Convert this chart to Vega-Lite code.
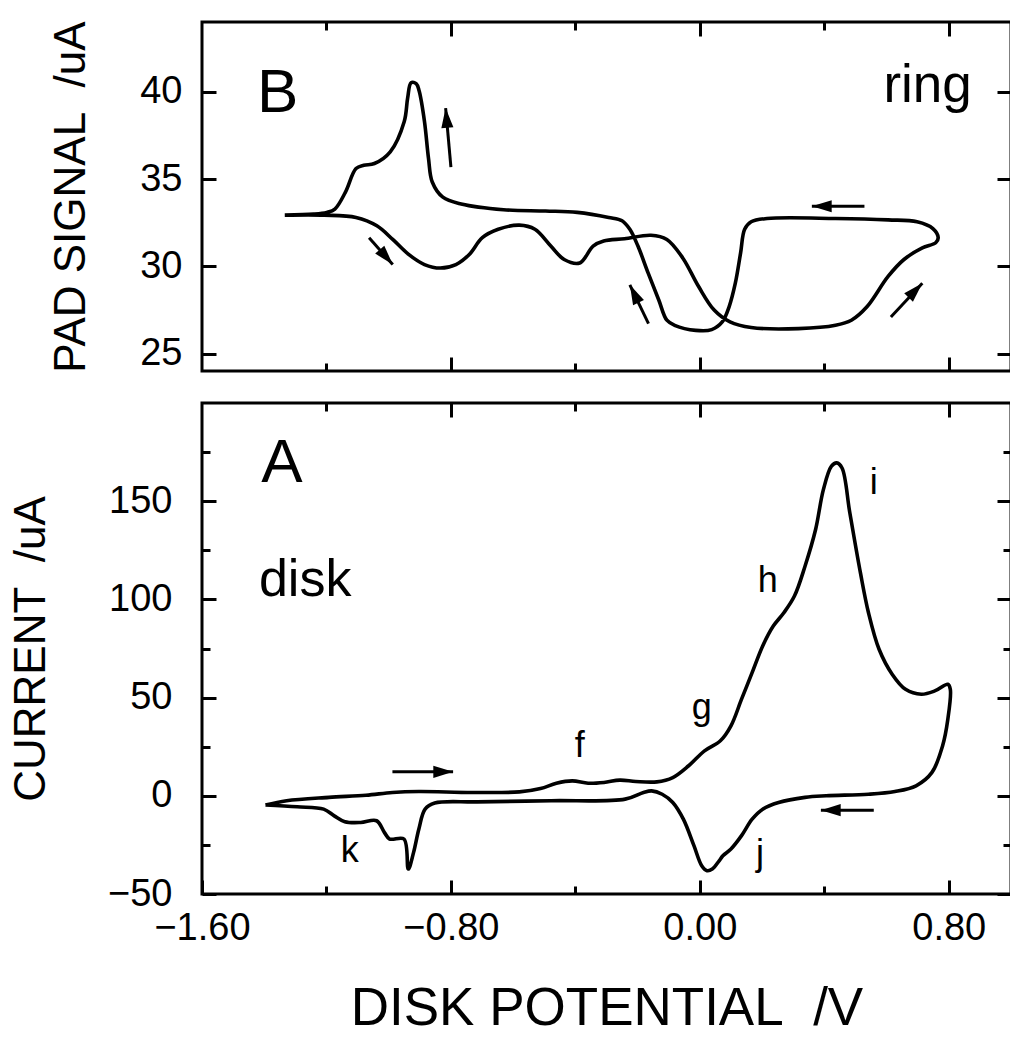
{
  "$schema": "https://vega.github.io/schema/vega-lite/v6.json",
  "padding": {"left": 8, "top": 19, "right": 0, "bottom": 0},
  "background": "white",
  "spacing": 25,
  "config": {
    "font": "Liberation Sans",
    "view": {"stroke": "black", "strokeWidth": 3},
    "axis": {
      "grid": false, "domain": false, "tickColor": "black", "tickWidth": 3,
      "labelColor": "black", "titleColor": "black",
      "labelFont": "Liberation Sans", "titleFont": "Liberation Sans",
      "labelFontSize": 38, "titleFontSize": 44, "titleFontWeight": "normal",
      "labelFlush": false, "labelOverlap": false
    }
  },
  "datasets": {
    "ring": [
      {"i":0,"E":-1.334,"I":32.93},{"i":1,"E":-1.207,"I":32.93},{"i":2,"E":-1.105,"I":32.80},{"i":3,"E":-1.038,"I":32.32},
      {"i":4,"E":-0.987,"I":31.54},{"i":5,"E":-0.936,"I":30.68},{"i":6,"E":-0.885,"I":30.10},{"i":7,"E":-0.834,"I":29.90},
      {"i":8,"E":-0.784,"I":30.10},{"i":9,"E":-0.741,"I":30.68},{"i":10,"E":-0.699,"I":31.64},{"i":11,"E":-0.648,"I":32.12},
      {"i":12,"E":-0.580,"I":32.36},{"i":13,"E":-0.530,"I":32.12},{"i":14,"E":-0.479,"I":31.16},{"i":15,"E":-0.436,"I":30.39},
      {"i":16,"E":-0.386,"I":30.19},{"i":17,"E":-0.343,"I":31.16},{"i":18,"E":-0.309,"I":31.45},{"i":19,"E":-0.242,"I":31.58},
      {"i":20,"E":-0.157,"I":31.78},{"i":21,"E":-0.106,"I":31.54},{"i":22,"E":-0.055,"I":30.48},{"i":23,"E":-0.004,"I":28.84},
      {"i":24,"E":0.046,"I":27.49},{"i":25,"E":0.097,"I":26.81},{"i":26,"E":0.165,"I":26.49},{"i":27,"E":0.317,"I":26.43},
      {"i":28,"E":0.436,"I":26.62},{"i":29,"E":0.487,"I":26.91},{"i":30,"E":0.537,"I":27.68},{"i":31,"E":0.605,"I":29.42},
      {"i":32,"E":0.656,"I":30.39},{"i":33,"E":0.715,"I":31.06},{"i":34,"E":0.758,"I":31.35},{"i":35,"E":0.766,"I":31.64},
      {"i":36,"E":0.749,"I":32.16},{"i":37,"E":0.698,"I":32.55},{"i":38,"E":0.605,"I":32.66},{"i":39,"E":0.436,"I":32.74},
      {"i":40,"E":0.216,"I":32.74},{"i":41,"E":0.165,"I":32.55},{"i":42,"E":0.144,"I":32.12},{"i":43,"E":0.131,"I":30.77},
      {"i":44,"E":0.114,"I":29.03},{"i":45,"E":0.094,"I":27.68},{"i":46,"E":0.072,"I":26.81},{"i":47,"E":0.038,"I":26.37},
      {"i":48,"E":-0.013,"I":26.33},{"i":49,"E":-0.081,"I":26.62},{"i":50,"E":-0.106,"I":26.91},{"i":51,"E":-0.132,"I":28.07},
      {"i":52,"E":-0.166,"I":29.61},{"i":53,"E":-0.199,"I":31.16},{"i":54,"E":-0.225,"I":32.12},{"i":55,"E":-0.250,"I":32.61},
      {"i":56,"E":-0.293,"I":32.80},{"i":57,"E":-0.394,"I":33.09},{"i":58,"E":-0.496,"I":33.17},{"i":59,"E":-0.631,"I":33.24},
      {"i":60,"E":-0.767,"I":33.57},{"i":61,"E":-0.826,"I":33.96},{"i":62,"E":-0.860,"I":34.83},{"i":63,"E":-0.872,"I":36.18},
      {"i":64,"E":-0.885,"I":38.30},{"i":65,"E":-0.902,"I":40.04},{"i":66,"E":-0.911,"I":40.46},{"i":67,"E":-0.928,"I":40.52},
      {"i":68,"E":-0.939,"I":39.65},{"i":69,"E":-0.950,"I":38.30},{"i":70,"E":-0.995,"I":36.56},{"i":71,"E":-1.046,"I":35.89},
      {"i":72,"E":-1.080,"I":35.79},{"i":73,"E":-1.105,"I":35.60},{"i":74,"E":-1.139,"I":34.25},{"i":75,"E":-1.173,"I":33.28},
      {"i":76,"E":-1.199,"I":33.09},{"i":77,"E":-1.241,"I":32.99},{"i":78,"E":-1.334,"I":32.93}
    ],
    "disk": [
      {"i":0,"E":-1.396,"I":-4.7},{"i":1,"E":-1.328,"I":-2.5},{"i":2,"E":-1.192,"I":-0.8},{"i":3,"E":-1.073,"I":0.3},
      {"i":4,"E":-0.988,"I":1.7},{"i":5,"E":-0.903,"I":2.2},{"i":6,"E":-0.733,"I":1.7},{"i":7,"E":-0.580,"I":2.0},
      {"i":8,"E":-0.512,"I":3.7},{"i":9,"E":-0.461,"I":6.4},{"i":10,"E":-0.410,"I":7.6},{"i":11,"E":-0.359,"I":6.4},
      {"i":12,"E":-0.308,"I":6.8},{"i":13,"E":-0.257,"I":8.0},{"i":14,"E":-0.206,"I":7.3},{"i":15,"E":-0.138,"I":7.1},
      {"i":16,"E":-0.087,"I":9.3},{"i":17,"E":-0.036,"I":15.3},{"i":18,"E":0.015,"I":22.9},{"i":19,"E":0.066,"I":28.0},
      {"i":20,"E":0.100,"I":35.6},{"i":21,"E":0.134,"I":49.2},{"i":22,"E":0.168,"I":62.7},{"i":23,"E":0.202,"I":76.3},
      {"i":24,"E":0.236,"I":86.4},{"i":25,"E":0.270,"I":93.2},{"i":26,"E":0.304,"I":101.7},{"i":27,"E":0.338,"I":116.9},
      {"i":28,"E":0.372,"I":135.6},{"i":29,"E":0.397,"I":155.9},{"i":30,"E":0.423,"I":167.8},{"i":31,"E":0.440,"I":169.5},
      {"i":32,"E":0.457,"I":166.9},{"i":33,"E":0.482,"I":144.1},{"i":34,"E":0.516,"I":113.6},{"i":35,"E":0.542,"I":93.2},
      {"i":36,"E":0.576,"I":74.6},{"i":37,"E":0.618,"I":61.9},{"i":38,"E":0.661,"I":54.2},{"i":39,"E":0.712,"I":51.7},
      {"i":40,"E":0.755,"I":53.4},{"i":41,"E":0.797,"I":56.8},{"i":42,"E":0.805,"I":54.2},{"i":43,"E":0.797,"I":39.0},
      {"i":44,"E":0.780,"I":25.4},{"i":45,"E":0.746,"I":11.9},{"i":46,"E":0.695,"I":5.1},{"i":47,"E":0.627,"I":2.2},
      {"i":48,"E":0.542,"I":0.8},{"i":49,"E":0.406,"I":0.0},{"i":50,"E":0.338,"I":-0.8},{"i":51,"E":0.253,"I":-3.4},
      {"i":52,"E":0.202,"I":-6.8},{"i":53,"E":0.168,"I":-11.9},{"i":54,"E":0.134,"I":-20.3},{"i":55,"E":0.100,"I":-27.1},
      {"i":56,"E":0.074,"I":-30.5},{"i":57,"E":0.062,"I":-33.1},{"i":58,"E":0.040,"I":-37.3},{"i":59,"E":0.023,"I":-38.1},
      {"i":60,"E":0.006,"I":-35.6},{"i":61,"E":-0.019,"I":-25.4},{"i":62,"E":-0.053,"I":-11.9},{"i":63,"E":-0.087,"I":-3.4},
      {"i":64,"E":-0.121,"I":0.8},{"i":65,"E":-0.155,"I":2.5},{"i":66,"E":-0.181,"I":1.7},{"i":67,"E":-0.240,"I":-1.7},
      {"i":68,"E":-0.478,"I":-2.5},{"i":69,"E":-0.716,"I":-3.1},{"i":70,"E":-0.852,"I":-3.7},{"i":71,"E":-0.883,"I":-6.8},
      {"i":72,"E":-0.903,"I":-16.9},{"i":73,"E":-0.920,"I":-28.8},{"i":74,"E":-0.937,"I":-37.3},{"i":75,"E":-0.951,"I":-22.0},
      {"i":76,"E":-0.997,"I":-22.0},{"i":77,"E":-1.014,"I":-18.6},{"i":78,"E":-1.039,"I":-12.7},{"i":79,"E":-1.090,"I":-13.6},
      {"i":80,"E":-1.141,"I":-13.2},{"i":81,"E":-1.175,"I":-10.2},{"i":82,"E":-1.209,"I":-6.8},{"i":83,"E":-1.294,"I":-5.6},
      {"i":84,"E":-1.396,"I":-4.7}
    ],
    "arrowsB": [
      {"E":-1.063,"I":31.64,"E2":-0.987,"I2":30.10,"dir":139},
      {"E":-0.800,"I":35.69,"E2":-0.817,"I2":39.07,"dir":-5},
      {"E":0.529,"I":33.44,"E2":0.360,"I2":33.44,"dir":270},
      {"E":-0.165,"I":26.72,"E2":-0.225,"I2":28.94,"dir":-26},
      {"E":0.614,"I":27.10,"E2":0.715,"I2":29.03,"dir":44}
    ],
    "arrowsA": [
      {"E":-0.988,"I":12.2,"E2":-0.793,"I2":12.2,"dir":90},
      {"E":0.559,"I":-7.3,"E2":0.389,"I2":-7.3,"dir":270}
    ],
    "panelB": [{"t":"B","E":-1.357,"I":38.84}],
    "wordB": [{"t":"ring","E":0.874,"I":39.41}],
    "panelA": [{"t":"A","E":-1.343,"I":159.6}],
    "wordA": [{"t":"disk","E":-1.417,"I":101.7}],
    "peaks": [
      {"t":"f","E":-0.386,"I":19.8},
      {"t":"g","E":0.006,"I":39.1},
      {"t":"h","E":0.218,"I":103.6},
      {"t":"i","E":0.559,"I":153.5},
      {"t":"j","E":0.193,"I":-35.4},
      {"t":"k","E":-1.125,"I":-33.7}
    ]
  },
  "vconcat": [
    {
      "width": 809,
      "height": 349,
      "resolve": {"axis": {"x": "independent", "y": "independent"}},
      "layer": [
        {
          "data": {"name": "ring"},
          "mark": {"type": "line", "color": "black", "strokeWidth": 3.6, "strokeJoin": "round", "interpolate": "catmull-rom"},
          "encoding": {
            "x": {"field": "E", "type": "quantitative", "scale": {"domain": [-1.6, 1.0], "nice": false, "zero": false},
                  "axis": {"orient": "bottom", "values": [-0.8, 0, 0.8], "labels": false, "title": null, "tickSize": -14}},
            "y": {"field": "I", "type": "quantitative", "scale": {"domain": [24, 44], "nice": false, "zero": false},
                  "axis": {"orient": "left", "values": [25, 30, 35, 40], "tickSize": -14, "labelPadding": 34, "format": "d",
                           "title": "PAD SIGNAL\u00a0\u00a0/uA", "titlePadding": 46}},
            "order": {"field": "i", "type": "quantitative"}
          }
        },
        {
          "data": {"name": "arrowsB"},
          "mark": {"type": "rule", "color": "black", "strokeWidth": 3},
          "encoding": {
            "x": {"field": "E", "type": "quantitative",
                  "axis": {"orient": "top", "values": [-0.8, 0, 0.8], "labels": false, "title": null, "tickSize": -14}},
            "y": {"field": "I", "type": "quantitative",
                  "axis": {"orient": "right", "values": [25, 30, 35, 40], "labels": false, "title": null, "tickSize": -14}},
            "x2": {"field": "E2"},
            "y2": {"field": "I2"}
          }
        },
        {
          "data": {"name": "arrowsB"},
          "mark": {"type": "point", "shape": "M0,0L0.55,1.8L-0.55,1.8Z", "filled": true, "color": "black", "opacity": 1, "size": 484},
          "encoding": {
            "x": {"field": "E2", "type": "quantitative",
                  "axis": {"orient": "bottom", "values": [-1.2, -0.4, 0.4], "labels": false, "title": null, "tickSize": -8}},
            "y": {"field": "I2", "type": "quantitative", "axis": null},
            "angle": {"field": "dir", "type": "quantitative", "scale": null}
          }
        },
        {
          "data": {"name": "panelB"},
          "mark": {"type": "text", "fontSize": 62, "align": "center", "baseline": "alphabetic", "color": "black"},
          "encoding": {
            "x": {"field": "E", "type": "quantitative",
                  "axis": {"orient": "top", "values": [-1.2, -0.4, 0.4], "labels": false, "title": null, "tickSize": -8}},
            "y": {"field": "I", "type": "quantitative", "axis": null},
            "text": {"field": "t"}
          }
        },
        {
          "data": {"name": "wordB"},
          "mark": {"type": "text", "fontSize": 53, "align": "right", "baseline": "alphabetic", "color": "black"},
          "encoding": {
            "x": {"field": "E", "type": "quantitative", "axis": null},
            "y": {"field": "I", "type": "quantitative", "axis": null},
            "text": {"field": "t"}
          }
        }
      ]
    },
    {
      "width": 809,
      "height": 491,
      "resolve": {"axis": {"x": "independent", "y": "independent"}},
      "layer": [
        {
          "data": {"name": "disk"},
          "mark": {"type": "line", "color": "black", "strokeWidth": 3.6, "strokeJoin": "round", "interpolate": "catmull-rom"},
          "encoding": {
            "x": {"field": "E", "type": "quantitative", "scale": {"domain": [-1.6, 1.0], "nice": false, "zero": false},
                  "axis": {"orient": "bottom", "values": [-1.6, -0.8, 0, 0.8], "format": ".2f", "tickSize": -14, "labelPadding": 29,
                           "title": "DISK POTENTIAL\u00a0\u00a0/V", "titleFontSize": 53, "titlePadding": 35}},
            "y": {"field": "I", "type": "quantitative", "scale": {"domain": [-50, 200], "nice": false, "zero": false},
                  "axis": {"orient": "left", "values": [-50, 0, 50, 100, 150], "tickSize": -14, "labelPadding": 44, "format": "d",
                           "title": "CURRENT\u00a0\u00a0/uA", "titlePadding": 54}},
            "order": {"field": "i", "type": "quantitative"}
          }
        },
        {
          "data": {"name": "arrowsA"},
          "mark": {"type": "rule", "color": "black", "strokeWidth": 3},
          "encoding": {
            "x": {"field": "E", "type": "quantitative",
                  "axis": {"orient": "top", "values": [-0.8, 0, 0.8], "labels": false, "title": null, "tickSize": -14}},
            "y": {"field": "I", "type": "quantitative",
                  "axis": {"orient": "right", "values": [-50, 0, 50, 100, 150], "labels": false, "title": null, "tickSize": -14}},
            "x2": {"field": "E2"},
            "y2": {"field": "I2"}
          }
        },
        {
          "data": {"name": "arrowsA"},
          "mark": {"type": "point", "shape": "M0,0L0.55,1.8L-0.55,1.8Z", "filled": true, "color": "black", "opacity": 1, "size": 484},
          "encoding": {
            "x": {"field": "E2", "type": "quantitative",
                  "axis": {"orient": "bottom", "values": [-1.2, -0.4, 0.4], "labels": false, "title": null, "tickSize": -8}},
            "y": {"field": "I2", "type": "quantitative",
                  "axis": {"orient": "left", "values": [-25, 25, 75, 125, 175], "labels": false, "title": null, "tickSize": -8}},
            "angle": {"field": "dir", "type": "quantitative", "scale": null}
          }
        },
        {
          "data": {"name": "panelA"},
          "mark": {"type": "text", "fontSize": 62, "align": "center", "baseline": "alphabetic", "color": "black"},
          "encoding": {
            "x": {"field": "E", "type": "quantitative",
                  "axis": {"orient": "top", "values": [-1.2, -0.4, 0.4], "labels": false, "title": null, "tickSize": -8}},
            "y": {"field": "I", "type": "quantitative",
                  "axis": {"orient": "right", "values": [-25, 25, 75, 125, 175], "labels": false, "title": null, "tickSize": -8}},
            "text": {"field": "t"}
          }
        },
        {
          "data": {"name": "wordA"},
          "mark": {"type": "text", "fontSize": 52, "align": "left", "baseline": "alphabetic", "color": "black"},
          "encoding": {
            "x": {"field": "E", "type": "quantitative", "axis": null},
            "y": {"field": "I", "type": "quantitative", "axis": null},
            "text": {"field": "t"}
          }
        },
        {
          "data": {"name": "peaks"},
          "mark": {"type": "text", "fontSize": 36, "align": "center", "baseline": "alphabetic", "color": "black"},
          "encoding": {
            "x": {"field": "E", "type": "quantitative", "axis": null},
            "y": {"field": "I", "type": "quantitative", "axis": null},
            "text": {"field": "t"}
          }
        }
      ]
    }
  ]
}
